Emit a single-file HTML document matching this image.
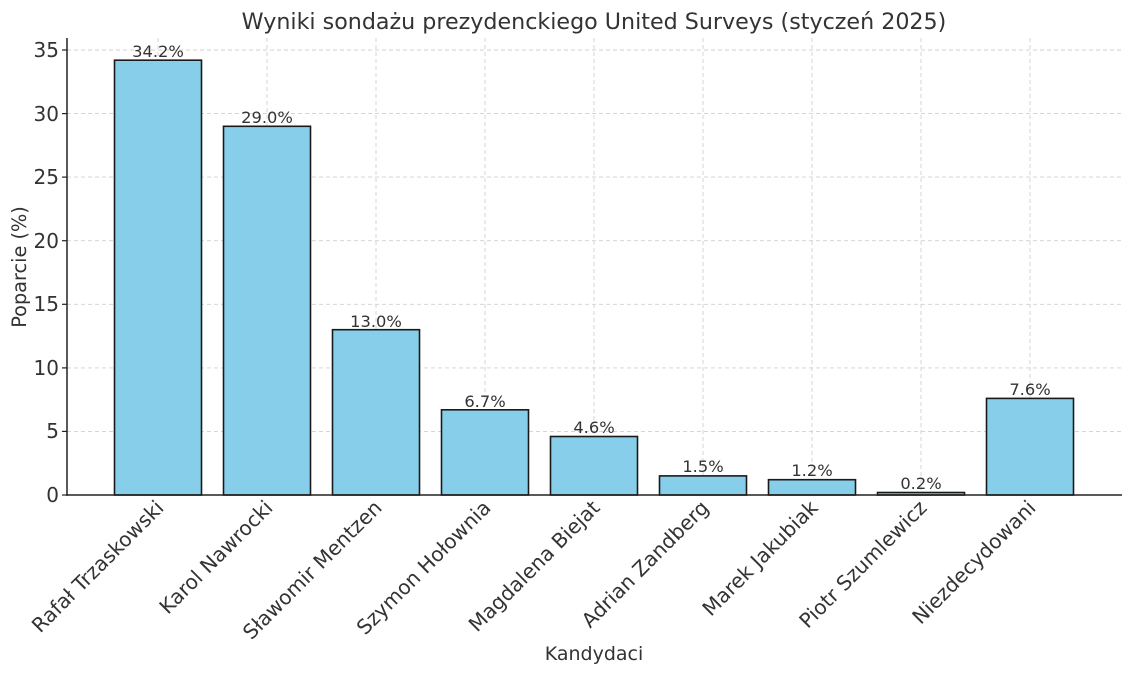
<!DOCTYPE html>
<html><head><meta charset="utf-8"><style>body{margin:0;background:#fff}svg{display:block}</style></head><body>
<svg width="1132" height="675" xmlns="http://www.w3.org/2000/svg" font-family="DejaVu Sans, Liberation Sans, sans-serif">
<rect width="1132" height="675" fill="#fff"/>
<text x="594" y="29" text-anchor="middle" font-size="22.2" fill="#333">Wyniki sondażu prezydenckiego United Surveys (styczeń 2025)</text>
<g stroke="#d0d0d0" stroke-dasharray="4,3" stroke-width="0.9">
<line x1="67" x2="1122" y1="50" y2="50"/><line x1="67" x2="1122" y1="113.6" y2="113.6"/><line x1="67" x2="1122" y1="177.1" y2="177.1"/><line x1="67" x2="1122" y1="240.7" y2="240.7"/><line x1="67" x2="1122" y1="304.3" y2="304.3"/><line x1="67" x2="1122" y1="367.9" y2="367.9"/><line x1="67" x2="1122" y1="431.4" y2="431.4"/>
<line x1="158" x2="158" y1="38" y2="495"/><line x1="267" x2="267" y1="38" y2="495"/><line x1="376" x2="376" y1="38" y2="495"/><line x1="485" x2="485" y1="38" y2="495"/><line x1="594" x2="594" y1="38" y2="495"/><line x1="703" x2="703" y1="38" y2="495"/><line x1="812" x2="812" y1="38" y2="495"/><line x1="921" x2="921" y1="38" y2="495"/><line x1="1030" x2="1030" y1="38" y2="495"/>
</g>
<g fill="#87ceeb" stroke="#1a1a1a" stroke-width="1.6">
<rect x="114.5" y="60.2" width="87" height="434.8"/>
<rect x="223.5" y="126.3" width="87" height="368.7"/>
<rect x="332.5" y="329.7" width="87" height="165.3"/>
<rect x="441.5" y="409.8" width="87" height="85.2"/>
<rect x="550.5" y="436.5" width="87" height="58.5"/>
<rect x="659.5" y="475.9" width="87" height="19.1"/>
<rect x="768.5" y="479.7" width="87" height="15.3"/>
<rect x="877.5" y="492.5" width="87" height="2.5"/>
<rect x="986.5" y="398.4" width="87" height="96.6"/>
</g>
<g font-size="16.3" fill="#333" text-anchor="middle">
<text x="158" y="57">34.2%</text><text x="267" y="123">29.0%</text><text x="376" y="327">13.0%</text><text x="485" y="407">6.7%</text><text x="594" y="433">4.6%</text><text x="703" y="472">1.5%</text><text x="812" y="476">1.2%</text><text x="921" y="489">0.2%</text><text x="1030" y="395">7.6%</text>
</g>
<g stroke="#222" stroke-width="1.5"><line x1="67" y1="38" x2="67" y2="495.7"/><line x1="66" y1="495" x2="1122" y2="495"/></g>
<g stroke="#222" stroke-width="1.2">
<line x1="62" x2="67" y1="50" y2="50"/><line x1="62" x2="67" y1="113.6" y2="113.6"/><line x1="62" x2="67" y1="177.1" y2="177.1"/><line x1="62" x2="67" y1="240.7" y2="240.7"/><line x1="62" x2="67" y1="304.3" y2="304.3"/><line x1="62" x2="67" y1="367.9" y2="367.9"/><line x1="62" x2="67" y1="431.4" y2="431.4"/><line x1="62" x2="67" y1="495" y2="495"/>
</g>
<g font-size="20" fill="#333" text-anchor="end">
<text x="59" y="57">35</text><text x="59" y="121">30</text><text x="59" y="184">25</text><text x="59" y="248">20</text><text x="59" y="311">15</text><text x="59" y="375">10</text><text x="59" y="438">5</text><text x="59" y="502">0</text>
</g>
<g font-size="20.2" fill="#333" text-anchor="end">
<text transform="translate(165,509) rotate(-45)">Rafał Trzaskowski</text>
<text transform="translate(274,509) rotate(-45)">Karol Nawrocki</text>
<text transform="translate(383,509) rotate(-45)">Sławomir Mentzen</text>
<text transform="translate(492,509) rotate(-45)">Szymon Hołownia</text>
<text transform="translate(601,509) rotate(-45)">Magdalena Biejat</text>
<text transform="translate(710,509) rotate(-45)">Adrian Zandberg</text>
<text transform="translate(819,509) rotate(-45)">Marek Jakubiak</text>
<text transform="translate(928,509) rotate(-45)">Piotr Szumlewicz</text>
<text transform="translate(1037,509) rotate(-45)">Niezdecydowani</text>
</g>
<text x="594" y="660" text-anchor="middle" font-size="19" fill="#333">Kandydaci</text>
<text transform="translate(26,267) rotate(-90)" text-anchor="middle" font-size="19.3" fill="#333">Poparcie (%)</text>
</svg>
</body></html>
